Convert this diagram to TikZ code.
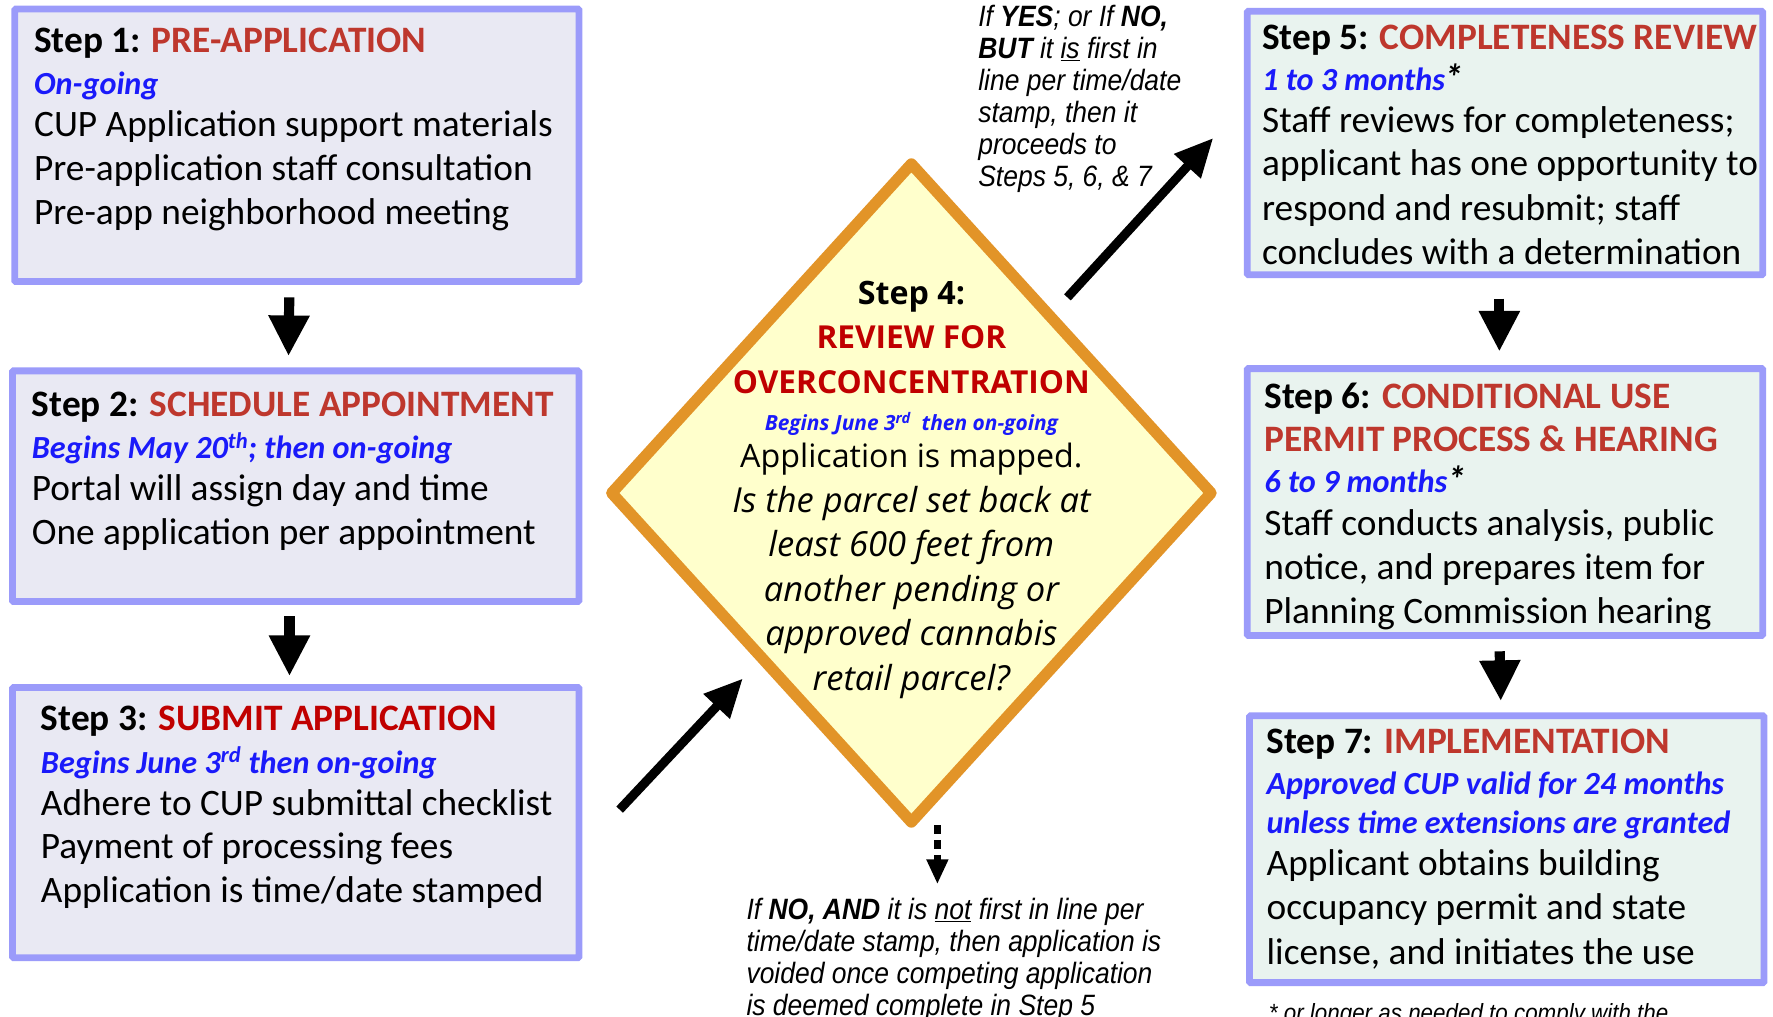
\documentclass[tikz,border=0pt]{standalone}
\usepackage{fontspec}
\setmainfont{Carlito}
\newfontfamily\notefont[FakeStretch=0.9]{Liberation Sans}
\newfontfamily\diafont{Open Sans}
\usetikzlibrary{shapes.geometric,arrows.meta,positioning}
\definecolor{boxline}{RGB}{155,155,250}
\definecolor{leftfill}{RGB}{233,233,243}
\definecolor{rightfill}{RGB}{233,243,239}
\definecolor{titlered}{RGB}{190,55,45}
\definecolor{deepred}{RGB}{192,0,0}
\definecolor{subblue}{RGB}{26,26,250}
\definecolor{diaorange}{RGB}{226,148,40}
\definecolor{diafill}{RGB}{255,255,204}
\newcommand{\steptitle}[3][titlered]{\textbf{Step #2: \textcolor{#1}{#3}}}
\newcommand{\subline}[1]{\textcolor{subblue}{\fontsize{28.5}{38.3}\selectfont\bfseries\itshape #1}}
\tikzset{%
	stepbox/.style={draw=boxline, line width=6pt, rounded corners=1pt, anchor=north west, inner sep=0pt, outer sep=0pt},
	leftstep/.style={stepbox, fill=leftfill},
	rightstep/.style={stepbox, fill=rightfill},
	steptext/.style={anchor=north west, inner sep=0pt, align=left, font=\fontsize{33}{38.3}\selectfont},
	decision/.style={diamond, draw=diaorange, line width=10pt, line join=round, fill=diafill, inner sep=0pt, outer sep=0pt, minimum width=530pt, minimum height=582pt},
	notetext/.style={anchor=north west, inner sep=0pt, align=left, font=\notefont\itshape\fontsize{26}{28.3}\selectfont},
	tostep/.style={draw=black, line width=9pt, -{Triangle[width=34pt,length=36pt]}},
	toside/.style={draw=black, line width=8pt, -{Triangle[width=30pt,length=34pt]}},
	tovoid/.style={draw=black, line width=6pt, dash pattern=on 8pt off 5pt, -{Triangle[width=18pt,length=22pt]}}}

\begin{document}
\begin{tikzpicture}[x=1pt, y=-1pt]
	\useasboundingbox (0,0) rectangle (1568,899);
	% left column
	\node[leftstep, minimum width=499pt, minimum height=241pt] (step1) at (13,8) {};
	\node[leftstep, minimum width=501pt, minimum height=204pt] (step2) at (11,328) {};
	\node[leftstep, minimum width=501pt, minimum height=239pt] (step3) at (11,608) {};
	% right column
	\node[rightstep, minimum width=456pt, minimum height=233pt] (step5) at (1103,10) {};
	\node[rightstep, minimum width=456pt, minimum height=236pt] (step6) at (1103,326) {};
	\node[rightstep, minimum width=455pt, minimum height=236pt] (step7) at (1105,633) {};
	% decision
	\node[decision] (step4) at (806,436) {};
	
	\node[steptext, below right=16.5pt and 17pt of step1.north west] (step1text) {\steptitle{1}{PRE-APPLICATION}\\[-1pt]
		\subline{On-going}\\[-1pt]
		CUP Application support materials\\
		Pre-application staff consultation\\[1pt]
		Pre-app neighborhood meeting};
	\node[steptext, below right=18.5pt and 17pt of step2.north west] (step2text) {\steptitle{2}{SCHEDULE APPOINTMENT}\\[-1pt]
		\subline{Begins May 20\textsuperscript{th}; then on-going}\\[-1pt]
		Portal will assign day and time\\
		One application per appointment};
	\node[steptext, below right=16.5pt and 25pt of step3.north west] (step3text) {\steptitle[deepred]{3}{SUBMIT APPLICATION}\\[-1pt]
		\subline{Begins June 3\textsuperscript{rd} then on-going}\\[-1pt]
		Adhere to CUP submittal checklist\\
		Payment of processing fees\\[1pt]
		Application is time/date stamped};
	\node[steptext, below right=11.5pt and 13pt of step5.north west] (step5text) {\steptitle{5}{COMPLETENESS REVIEW}\\[-1.3pt]
		\subline{1 to 3 months}\textbf{\textit{*}}\\[-1.3pt]
		Staff reviews for completeness;\\
		applicant has one opportunity to\\[1pt]
		respond and resubmit; staff\\[0.7pt]
		concludes with a determination};
	\node[steptext, below right=12.5pt and 15pt of step6.north west] (step6text) {\steptitle{6}{CONDITIONAL USE}\\
		\textbf{\textcolor{titlered}{PERMIT PROCESS \& HEARING}}\\[-2.3pt]
		\subline{6 to 9 months}\textbf{\textit{*}}\\[-0.3pt]
		Staff conducts analysis, public\\[0.7pt]
		notice, and prepares item for\\[0.7pt]
		Planning Commission hearing};
	\node[steptext, below right=11.5pt and 15pt of step7.north west] (step7text) {\steptitle{7}{IMPLEMENTATION}\\[-2.3pt]
		\subline{Approved CUP valid for 24 months}\\[-3.3pt]
		\subline{unless time extensions are granted}\\[-1.3pt]
		Applicant obtains building\\[0.7pt]
		occupancy permit and state\\[1.7pt]
		license, and initiates the use};
	\node[align=center, inner sep=0pt, font=\diafont\fontsize{28.5}{39.3}\selectfont] (step4text) at (806,433) {%
		\textbf{Step 4:}\\
		{\fontsize{28}{39}\selectfont\bfseries\color{deepred}REVIEW FOR}\\
		{\fontsize{28}{39}\selectfont\bfseries\color{deepred}OVERCONCENTRATION}\\[-6.3pt]
		{\fontsize{18.5}{22}\selectfont\bfseries\itshape\color{subblue}Begins June 3\textsuperscript{rd}\ \ then on-going}\\[-6.3pt]
		Application is mapped.\\
		{\fontsize{30.5}{39}\selectfont\itshape Is the parcel set back at}\\
		{\fontsize{30.5}{39}\selectfont\itshape least 600 feet from}\\
		{\fontsize{30.5}{39}\selectfont\itshape another pending or}\\
		{\fontsize{30.5}{39}\selectfont\itshape approved cannabis}\\
		{\fontsize{30.5}{39}\selectfont\itshape retail parcel?}};
	
	% notes
	\node[notetext] (yesnote) at (865,4) {If \textbf{YES}; or If \textbf{NO,}\\
		\textbf{BUT} it \underline{is} first in\\
		line per time/date\\
		stamp, then it\\
		proceeds to\\
		Steps 5, 6, \& 7};
	\node[notetext] (nonote) at (660,794) {If \textbf{NO, AND} it is \underline{not} first in line per\\
		time/date stamp, then application is\\
		voided once competing application\\
		is deemed complete in Step 5};
	\node[notetext, font=\notefont\itshape\fontsize{22}{26}\selectfont] (footnote) at (1122,887) {* or longer as needed to comply with the};
	
	% arrows
	\coordinate (leave3) at (548,716);
	\coordinate (enter4) at (657,600);
	\coordinate (leave4) at (944,263);
	\coordinate (enter5) at (1073,122);
	\coordinate (drop4) at (829,730);
	\coordinate (void4) at (829,782);
	\draw[tostep, shorten <=14pt, shorten >=13pt] ([xshift=-6.5pt]step1.south) -- ([xshift=-6.5pt]step2.north);
	\draw[tostep, shorten <=13pt, shorten >=10pt] ([xshift=-5.5pt]step2.south) -- ([xshift=-5.5pt]step3.north);
	\draw[tostep, shorten <=21pt, shorten >=15pt] ([xshift=-5pt]step5.south) -- ([xshift=-5pt]step6.north);
	\draw[tostep, shorten <=14pt, shorten >=13pt] ([xshift=-5pt]step6.south) -- ([xshift=-5pt]step7.north);
	\draw[toside] (leave3) -- (enter4);
	\draw[toside] (leave4) -- (enter5);
	\draw[tovoid] (drop4) -- (void4);
\end{tikzpicture}
\end{document}
